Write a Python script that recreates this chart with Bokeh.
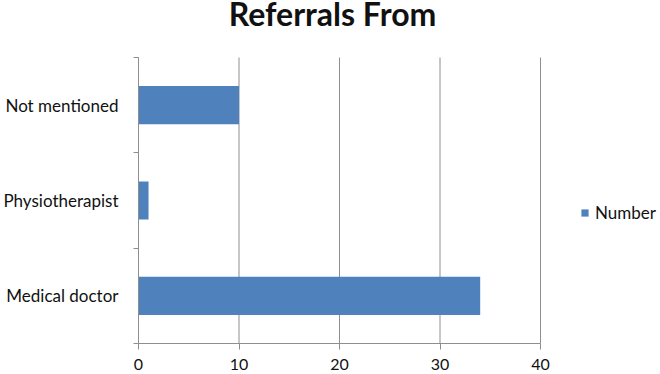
from bokeh.plotting import figure
from bokeh.models import Range1d, FixedTicker, Legend, LegendItem, ColumnDataSource, Label
from bokeh.embed import file_html
from bokeh.resources import INLINE

categories = ["Medical doctor", "Physiotherapist", "Not mentioned"]
values = [34, 1, 10]
x_ticks = [0, 10, 20, 30, 40]
series_name = "Number"
title_text = "Referrals From"

ypos = [i + 0.5 for i in range(len(categories))]
source = ColumnDataSource(dict(y=ypos, v=values, cat=categories))

FONT = "Lato"
GRAY = "#8e8e8e"

# layout (pixels)
W, H = 660, 374
LEFT, AXIS_RIGHT, AXIS_TOP, AXIS_BOTTOM = 138, 540, 57, 343
x_max = x_ticks[-1]
n = len(categories)
x_end = x_max * (W - LEFT) / (AXIS_RIGHT - LEFT)
units_per_px = n / (AXIS_BOTTOM - AXIS_TOP)
y_end = n + AXIS_TOP * units_per_px

def px_to_y(py):
    return y_end - py * units_per_px

def px_to_x(px):
    return (px - LEFT) / (W - LEFT) * x_end

p = figure(width=W, height=H, output_backend="svg", toolbar_location=None,
           x_range=Range1d(0, x_end), y_range=Range1d(0, y_end),
           min_border_left=LEFT, min_border_right=0, min_border_top=0,
           min_border_bottom=H - AXIS_BOTTOM)
p.title = None
p.outline_line_color = None
p.background_fill_color = "white"
p.border_fill_color = "white"

# vertical gridlines, limited to the category area
p.xgrid.grid_line_color = None
p.ygrid.grid_line_color = None
p.segment(x0=x_ticks, y0=[0] * len(x_ticks), x1=x_ticks, y1=[n] * len(x_ticks),
          line_color=GRAY, line_width=1)

r = p.hbar(y="y", right="v", left=0, height=0.4, source=source,
           fill_color="#4f81bd", line_color=None)

# x axis
xa = p.xaxis[0]
xa.ticker = FixedTicker(ticks=x_ticks)
xa.bounds = (x_ticks[0], x_max)
xa.axis_line_color = GRAY
xa.major_tick_line_color = GRAY
xa.major_tick_in = 0
xa.major_tick_out = 6
xa.minor_tick_line_color = None
xa.major_label_text_font = FONT
xa.major_label_text_font_size = "16px"
xa.major_label_text_color = "#111111"
xa.major_label_standoff = 9

# y axis
ya = p.yaxis[0]
ya.ticker = FixedTicker(ticks=ypos, minor_ticks=list(range(n + 1)))
ya.bounds = (0, n)
ya.major_label_overrides = {y: c for y, c in zip(ypos, categories)}
ya.axis_line_color = GRAY
ya.major_tick_line_color = None
ya.minor_tick_line_color = GRAY
ya.minor_tick_in = 0
ya.minor_tick_out = 5
ya.major_label_text_font = FONT
ya.major_label_text_font_size = "17px"
ya.major_label_text_color = "#111111"
ya.major_label_standoff = 14

# title as a label inside the (extended) frame
p.add_layout(Label(x=px_to_x(332), y=px_to_y(13),
                   text=title_text, text_align="center", text_baseline="alphabetic",
                   text_font=FONT, text_font_size="32px", text_font_style="bold",
                   text_color="#111111"))

legend = Legend(items=[LegendItem(label=series_name, renderers=[r])],
                location=(442, 120), border_line_color=None, background_fill_alpha=0,
                label_text_font=FONT, label_text_font_size="17px", label_text_color="#111111",
                glyph_width=9, glyph_height=9, label_standoff=6, padding=4, margin=0)
p.add_layout(legend, "center")

open("out.html", "w").write(file_html(p, INLINE))
